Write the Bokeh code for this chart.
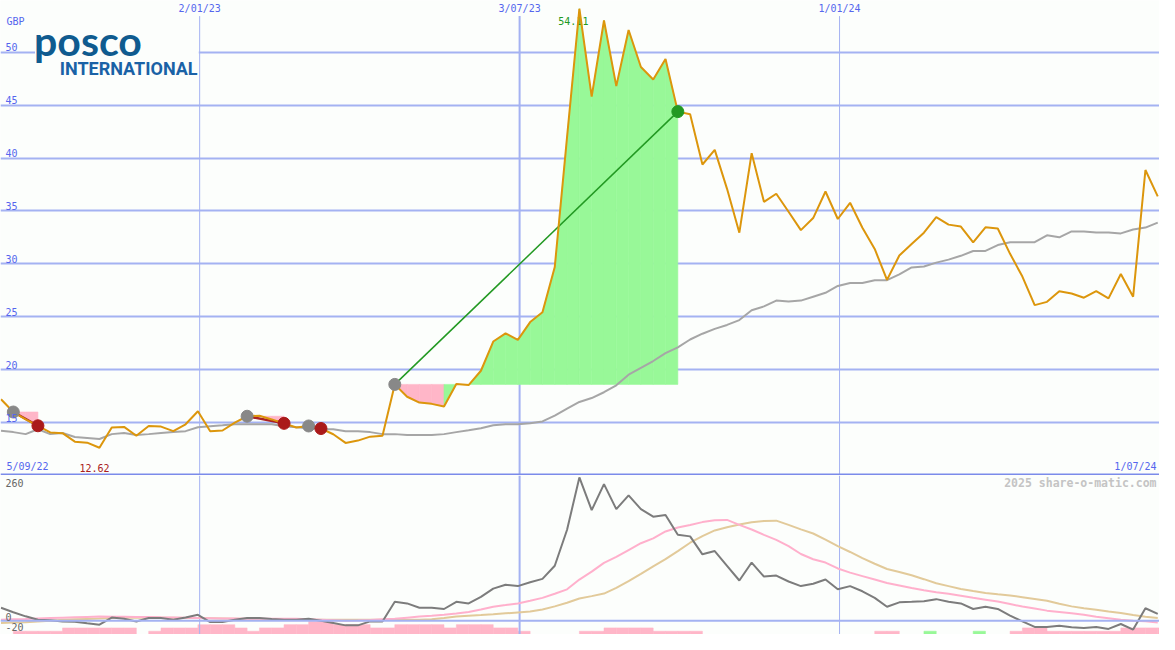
import datetime as dt
from bokeh.plotting import figure
from bokeh.layouts import column
from bokeh.models import Range1d, FixedTicker, Span, Label, BoxAnnotation
from bokeh.core.properties import value
from bokeh.embed import file_html
from bokeh.resources import INLINE

# ---------------- data (weekly, week ending Sundays from 11 Sep 2022) ----------------
price = [17.2, 16.0, 15.3, 14.7, 14.07, 14.0, 13.2, 13.1, 12.62, 14.53,
         14.59, 13.76, 14.68, 14.62, 14.19, 14.84, 16.07, 14.19, 14.25, 15.0,
         15.6, 15.65, 15.3, 14.93, 14.53, 14.68, 14.44, 13.9, 13.08, 13.3,
         13.67, 13.76, 18.61, 17.44, 16.89, 16.77, 16.52, 18.65, 18.55, 19.9,
         22.66, 23.43, 22.82, 24.5, 25.42, 29.7, 42.0, 54.11, 45.8, 53.0,
         46.8, 52.1, 48.6, 47.43, 49.36, 44.39, 44.14, 39.39, 40.77, 37.09,
         32.95, 40.46, 35.86, 36.63, 34.93, 33.19, 34.33, 36.84, 34.24, 35.77,
         33.41, 31.41, 28.49, 30.79, 31.87, 32.95, 34.42, 33.71, 33.53, 32.03,
         33.46, 33.34, 30.95, 28.8, 26.1, 26.41, 27.42, 27.2, 26.8, 27.42,
         26.74, 29.04, 26.9, 38.87, 36.38]

moving_avg = [14.22, 14.10, 13.91, 14.37, 13.91, 14.01, 13.64, 13.55, 13.45, 13.91,
              14.01, 13.82, 13.91, 14.01, 14.10, 14.19, 14.56, 14.65, 14.74, 14.84,
              14.84, 14.84, 14.84, 14.65, 14.56, 14.47, 14.37, 14.37, 14.19, 14.19,
              14.10, 13.91, 13.91, 13.82, 13.82, 13.82, 13.91, 14.10, 14.28, 14.47,
              14.74, 14.84, 14.84, 14.93, 15.11, 15.66, 16.31, 16.95, 17.32, 17.87,
              18.52, 19.53, 20.18, 20.82, 21.56, 22.11, 22.85, 23.40, 23.86, 24.23,
              24.69, 25.61, 25.98, 26.53, 26.44, 26.53, 26.90, 27.27, 27.91, 28.19,
              28.19, 28.46, 28.46, 29.01, 29.66, 29.75, 30.12, 30.40, 30.76, 31.22,
              31.22, 31.78, 32.05, 32.05, 32.05, 32.70, 32.51, 33.07, 33.07, 32.97,
              32.97, 32.88, 33.25, 33.43, 33.90]

momentum = [25.4, 16.6, 8.6, 1.9, 1.0, -1.3, -1.9, -4.8, -7.6, 6.3,
            3.8, -1.3, 5.2, 5.2, 1.9, 6.3, 11.5, -2.5, -2.5, 1.9,
            5.2, 5.2, 3.3, 1.9, 1.9, 3.8, 0.0, -4.4, -9.0, -9.0,
            -1.3, -1.3, 36.9, 33.8, 25.4, 25.4, 22.9, 36.9, 33.8, 46.5,
            62.5, 70.2, 67.5, 75.1, 81.6, 107.1, 177.2, 279.2, 215.5, 266.3,
            217.4, 244.2, 217.4, 202.7, 205.9, 167.7, 164.4, 129.4, 135.8, 107.1,
            78.4, 113.4, 86.0, 88.0, 76.5, 67.5, 72.1, 80.3, 61.2, 67.5,
            57.4, 44.6, 27.3, 35.8, 36.9, 38.2, 42.1, 36.9, 33.8, 22.9,
            27.3, 22.9, 10.1, -1.3, -12.0, -12.0, -9.6, -12.8, -14.0, -12.0,
            -15.9, -6.3, -17.2, 24.3, 13.4]

momentum_fast = [1.9, 2.7, 3.5, 4.4, 5.2, 6.0, 6.8, 7.5, 8.2, 8.0,
                 7.7, 7.4, 7.1, 6.6, 6.2, 5.7, 5.2, 4.9, 4.5, 4.2,
                 3.8, 3.8, 3.8, 3.8, 3.8, 3.0, 2.0, 1.0, 0.0, 0.5,
                 1.5, 2.8, 3.8, 6.0, 8.2, 9.8, 11.5, 14.3, 17.2, 22.0,
                 27.3, 30.5, 33.8, 39.0, 44.6, 52.5, 61.2, 80.3, 95.6, 112.8,
                 124.3, 137.7, 151.0, 160.6, 174.0, 181.6, 186.4, 192.2, 196.0, 196.4,
                 186.8, 177.8, 167.3, 157.7, 145.3, 130.0, 119.9, 113.4, 101.9, 93.7,
                 87.0, 80.3, 73.6, 68.8, 64.0, 59.3, 55.4, 52.6, 48.8, 44.9,
                 41.1, 37.3, 32.5, 27.7, 23.9, 19.7, 17.2, 14.7, 11.5, 7.6,
                 4.8, 1.9, 0.0, -1.0, -3.3]

momentum_slow = [-4.4, -3.6, -2.9, -1.3, 0.2, 1.9, 2.7, 3.5, 4.3, 5.2,
                 5.6, 6.0, 6.3, 6.0, 5.8, 5.5, 5.2, 4.8, 4.3, 3.8,
                 3.3, 3.0, 2.6, 2.3, 1.9, 1.9, 1.9, 1.9, 1.9, 1.9,
                 1.9, 1.9, 1.9, 1.9, 1.9, 3.0, 5.5, 8.2, 9.7, 11.2,
                 12.8, 14.5, 16.2, 17.8, 22.0, 28.0, 35.0, 43.4, 48.0, 53.0,
                 64.0, 77.0, 91.2, 106.0, 120.0, 135.8, 152.0, 165.0, 176.0, 182.0,
                 187.5, 192.0, 194.5, 195.0, 186.8, 178.0, 170.0, 158.0, 145.3, 134.0,
                 122.0, 111.0, 100.8, 95.0, 88.5, 81.0, 73.0, 67.5, 62.0, 58.0,
                 54.1, 51.5, 49.0, 46.0, 42.5, 38.8, 33.0, 28.0, 24.5, 21.5,
                 18.0, 15.0, 11.0, 8.0, 5.2]

# signal strength bars: negative = pink (weak), positive = green
signal = [0, -1, -1, -1, -1, -2, -2, -2, -2, -2,
          -2, 0, -1, -2, -2, -2, -3, -3, -3, -2,
          -1, -2, -2, -3, -3, -4, -4, -3, -3, -3,
          -2, -2, -3, -3, -3, -3, -2, -3, -3, -3,
          -2, -2, -1, 0, 0, 0, 0, -1, -1, -2,
          -2, -2, -2, -1, -1, -1, -1, 0, 0, 0,
          0, 0, 0, 0, 0, 0, 0, 0, 0, 0,
          0, -1, -1, 0, 0, 1, 0, 0, 0, 1,
          0, 0, -1, -2, -2, -1, -1, -1, -1, -1,
          -1, -2, -2, -2, -2]

# trades: (entry week index, exit week index)
trades = [(1, 3), (20, 23), (25, 26), (32, 55)]

y_ticks = [15, 20, 25, 30, 35, 40, 45, 50]
date_marks = [dt.datetime(2023, 1, 2), dt.datetime(2023, 7, 3), dt.datetime(2024, 1, 1)]
date_labels = ["2/01/23", "3/07/23", "1/01/24"]
date_widths = [1, 2, 1]
start_label = "5/09/22"
end_label = "1/07/24"

# ---------------- layout / style ----------------
EPOCH = dt.datetime(1970, 1, 1)
def ms(d):
    return (d - EPOCH).total_seconds() * 1000.0

first = dt.datetime(2022, 9, 11)
dates = [ms(first + dt.timedelta(days=7 * i)) for i in range(len(price))]
marks = [ms(d) for d in date_marks]

W, H_TOP, H_BOT = 1159, 475, 159
REF_W, REF_TOP, REF_BOT = 1175.0, 487.5, 162.5
X_START = ms(dt.datetime(2022, 9, 10, 17))
X_END = ms(dt.datetime(2024, 7, 1))
Y0, Y1 = 10.0, 54.89
B0, B1 = -26.8, 283.0

BG = "#fcfefc"
GRID = "#a4b2f2"
SEP = "#7b8bea"
LBL = "#5566ee"
ORANGE = "#dc960c"
MAGRAY = "#a6a6a6"
WIN = "#98f898"
LOSS = "#ffb6c8"
FONT = "DejaVu Sans Mono"

def rx(px):
    return X_START + px / REF_W * (X_END - X_START)

def ry(py):
    return Y1 - py / REF_TOP * (Y1 - Y0)

def rb(py):
    return B1 - py / REF_BOT * (B1 - B0)

x_range = Range1d(X_START, X_END)

# ---------------- top panel ----------------
p1 = figure(width=W, height=H_TOP, x_range=x_range, y_range=Range1d(Y0, Y1),
            toolbar_location=None, output_backend="svg", min_border=0,
            background_fill_color=BG, border_fill_color=BG, outline_line_color=None)
p1.axis.visible = False
p1.xgrid.visible = False
p1.ygrid.ticker = FixedTicker(ticks=y_ticks)
p1.ygrid.grid_line_color = GRID
p1.ygrid.grid_line_width = 2

p1.segment(x0=marks, y0=[Y0] * 3, x1=marks, y1=[ry(16)] * 3,
           line_color=GRID, line_width=date_widths)

# trade fills
xs, ys, cols = [], [], []
for a, b in trades:
    e = price[a]
    for i in range(a + 1, b + 1):
        xs.append([dates[i - 1], dates[i], dates[i], dates[i - 1]])
        ys.append([price[i - 1], price[i], e, e])
        cols.append(WIN if price[i] >= e else LOSS)
p1.patches(xs, ys, fill_color=cols, line_color=cols, line_width=0.6)

imax = price.index(max(price))
imin = price.index(min(price))
p1.text(x=[dates[imax]], y=[ry(21)], text=["%.2f" % price[imax]], x_offset=-6,
        text_font=value(FONT), text_font_size="10px", text_color="#229922",
        text_align="center", text_baseline="middle")

p1.line(dates, moving_avg, line_color=MAGRAY, line_width=2)

# trade lines
tx0 = [dates[a] for a, b in trades]
ty0 = [price[a] for a, b in trades]
tx1 = [dates[b] for a, b in trades]
ty1 = [price[b] for a, b in trades]
win = [price[b] >= price[a] for a, b in trades]
p1.segment(x0=tx0, y0=ty0, x1=tx1, y1=ty1,
           line_color=["#229922" if w else "#aa2222" for w in win],
           line_width=[1.5 if w else 2.5 for w in win])

p1.line(dates, price, line_color=ORANGE, line_width=2)

p1.scatter(tx0, ty0, size=12, fill_color="#888888", line_color="#888888")
p1.scatter(tx1, ty1, size=12,
           fill_color=["#229922" if w else "#aa1a1a" for w in win],
           line_color=["#229922" if w else "#aa1a1a" for w in win])

# labels
p1.add_layout(Label(x=6, y=ry(27), x_units="screen", text="GBP", text_font=FONT,
                    text_font_size="10px", text_color=LBL, text_baseline="bottom"))
for t in y_ticks:
    p1.add_layout(Label(x=5, y=t, x_units="screen", y_offset=1, text=str(t), text_font=FONT,
                        text_font_size="10px", text_color=LBL, text_baseline="bottom"))
for m, s in zip(marks, date_labels):
    p1.add_layout(Label(x=m, y=ry(14), text=s, text_font=FONT, text_font_size="10px",
                        text_color=LBL, text_align="center", text_baseline="bottom"))
p1.add_layout(Label(x=6, y=ry(484), x_units="screen", text=start_label, text_font=FONT,
                    text_font_size="10px", text_color=LBL, text_baseline="bottom"))
p1.add_layout(Label(x=W - 3, y=ry(484), x_units="screen", text=end_label, text_font=FONT,
                    text_font_size="10px", text_color=LBL, text_align="right",
                    text_baseline="bottom"))
p1.add_layout(Label(x=dates[imin], y=ry(484), x_offset=-5, text="%.2f" % price[imin],
                    text_font=FONT, text_font_size="10px", text_color="#aa2020",
                    text_align="center", text_baseline="bottom"))

# logo
p1.add_layout(BoxAnnotation(left=rx(35), right=rx(201), top=ry(28), bottom=ry(81),
                            fill_color=BG, fill_alpha=1.0, line_color=None))
p1.add_layout(Label(x=rx(34), y=ry(66), text="posco", text_font="Lato",
                    text_font_style="bold", text_font_size="41px", text_color="#0f5b8f",
                    text_baseline="bottom"))
p1.add_layout(Label(x=rx(60), y=ry(81), text="INTERNATIONAL", text_font="Roboto",
                    text_font_style="bold", text_font_size="18px", text_color="#1a62a6",
                    text_baseline="bottom"))

p1.add_layout(Span(location=ry(486.5), dimension="width", line_color=SEP, line_width=2))

# ---------------- bottom panel ----------------
p2 = figure(width=W, height=H_BOT, x_range=x_range, y_range=Range1d(B0, B1),
            toolbar_location=None, output_backend="svg", min_border=0,
            background_fill_color=BG, border_fill_color=BG, outline_line_color=None)
p2.axis.visible = False
p2.grid.visible = False

step = 7 * 24 * 3600 * 1000.0
unit = 6.4
bl, br, bt, bc = [], [], [], []
for i, s in enumerate(signal):
    if s == 0:
        continue
    bl.append(dates[i])
    br.append(dates[i] + step)
    bt.append(B0 + abs(s) * unit)
    bc.append(WIN if s > 0 else LOSS)
p2.quad(left=bl, right=br, bottom=[B0] * len(bl), top=bt, fill_color=bc, line_color=bc,
        line_width=0.5)

p2.segment(x0=marks, y0=[B0] * 3, x1=marks, y1=[B1] * 3, line_color=GRID,
           line_width=date_widths)
p2.add_layout(Span(location=0, dimension="width", line_color=GRID, line_width=2))

p2.line(dates, momentum_slow, line_color="#e2ca9a", line_width=2)
p2.line(dates, momentum_fast, line_color="#ffb0cc", line_width=2)
p2.line(dates, momentum, line_color="#7c7c7c", line_width=2)

for v, s in [(260, "260"), (0, "0"), (-20, "-20")]:
    p2.add_layout(Label(x=5, y=v, x_units="screen", text=s, text_font=FONT,
                        text_font_size="10px", text_color="#666666", text_baseline="bottom"))
p2.add_layout(Label(x=W - 3, y=rb(15), x_units="screen", text="2025 share-o-matic.com",
                    text_font=FONT, text_font_size="11.5px", text_font_style="bold",
                    text_color="#c4c4c4", text_align="right", text_baseline="bottom"))

layout = column(p1, p2, spacing=0)
open("out.html", "w").write(file_html(layout, INLINE))
